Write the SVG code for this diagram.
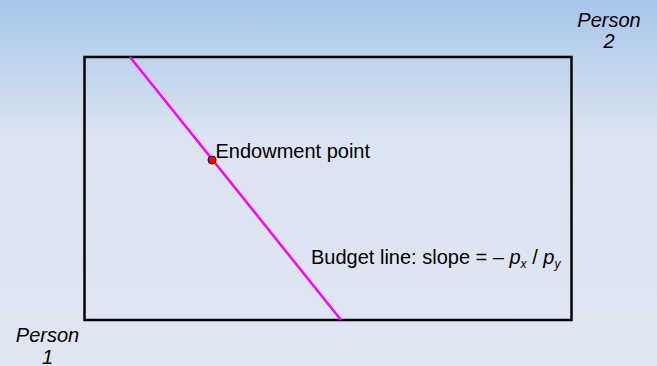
<svg xmlns="http://www.w3.org/2000/svg" width="657" height="366" viewBox="0 0 657 366">
<defs>
<linearGradient id="bg" x1="0" y1="0" x2="0" y2="1">
<stop offset="0" stop-color="#a8c6ea"/>
<stop offset="0.38" stop-color="#dce4f1"/>
<stop offset="1" stop-color="#dfe6f2"/>
</linearGradient>
</defs>
<style>
text{font-family:"Liberation Sans",Arial,sans-serif;fill:#000}
.lbl{font-size:20px;font-style:italic}
</style>
<rect width="657" height="366" fill="url(#bg)"/>
<g id="box"><rect x="84.5" y="57" width="487" height="263" fill="none" stroke="#000" stroke-width="2.5"/></g>
<g id="connectors"><line x1="130" y1="57" x2="341" y2="320" stroke="#ff00ff" stroke-width="2.5"/></g>
<g id="endowment"><circle cx="212" cy="160" r="4" fill="#ff0000" stroke="#300" stroke-width="1"/>
<text x="215.5" y="157.5" font-size="20">Endowment point</text></g>
<g id="budget"><text x="311" y="264" font-size="20">Budget line: slope = – <tspan font-style="italic">p</tspan><tspan font-style="italic" font-size="12" dy="4">x</tspan><tspan dy="-4"> / </tspan><tspan font-style="italic">p</tspan><tspan font-style="italic" font-size="12" dy="4">y</tspan></text></g>
<g id="person2"><text class="lbl" x="609" y="27" text-anchor="middle">Person</text><text class="lbl" x="609" y="48" text-anchor="middle">2</text></g>
<g id="person1"><text class="lbl" x="47.5" y="342" text-anchor="middle">Person</text><text class="lbl" x="47.5" y="363.5" text-anchor="middle">1</text></g>
</svg>
